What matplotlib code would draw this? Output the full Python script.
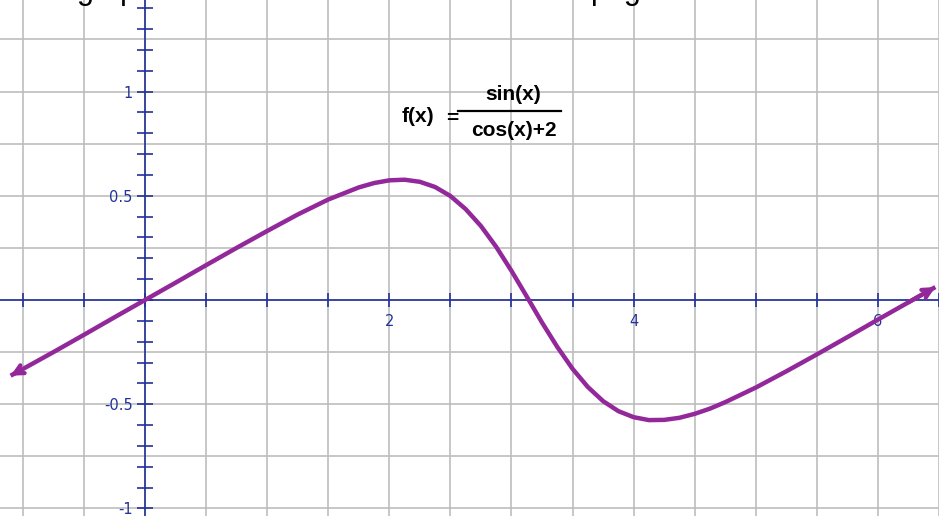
import numpy as np
import matplotlib
matplotlib.use("Agg")
import matplotlib.pyplot as plt
from matplotlib.lines import Line2D

xs = [-1.1, -1.0, -0.75, -0.5, -0.25, 0.0, 0.25, 0.5, 0.75, 1.0, 1.25, 1.5,
      1.75, 1.875, 2.0, 2.125, 2.25, 2.375, 2.5, 2.625, 2.75, 2.875, 3.0,
      3.125, 3.25, 3.375, 3.5, 3.625, 3.75, 3.875, 4.0, 4.125, 4.25, 4.375,
      4.5, 4.625, 4.75, 5.0, 5.25, 5.5, 5.75, 6.0, 6.25, 6.47]
ys = [-0.363, -0.331, -0.250, -0.167, -0.083, 0.0, 0.083, 0.167, 0.250, 0.331,
      0.410, 0.482, 0.540, 0.561, 0.574, 0.577, 0.567, 0.542, 0.499, 0.436,
      0.355, 0.255, 0.140, 0.017, -0.108, -0.225, -0.330, -0.417, -0.485,
      -0.533, -0.562, -0.576, -0.575, -0.565, -0.546, -0.521, -0.490, -0.420,
      -0.342, -0.261, -0.178, -0.094, -0.011, 0.062]

x_labels = {2: "2", 4: "4", 6: "6"}
y_labels = {0.5: "0.5", 1.0: "1", -0.5: "-0.5", -1.0: "-1"}

W, H = 939, 516
axis_col = "#22319b"
curve_col = "#93289b"
grid_col = "#bdbdbd"

fig = plt.figure(figsize=(W / 100, H / 100), dpi=100)
ax = fig.add_axes([0, 0, 1, 1])
ax.set_xlim(-1.187, 6.497)
ax.set_ylim(-1.036, 1.439)

# grid
for gx in np.arange(-1.0, 6.51, 0.5):
    ax.axvline(gx, color=grid_col, lw=1.2, zorder=0)
for gy in np.arange(-1.0, 1.41, 0.25):
    ax.axhline(gy, color=grid_col, lw=1.2, zorder=0)

# axes through the origin
for side in ["top", "right"]:
    ax.spines[side].set_visible(False)
ax.spines["left"].set_position(("data", 0))
ax.spines["bottom"].set_position(("data", 0))
for side in ["left", "bottom"]:
    ax.spines[side].set_color(axis_col)
    ax.spines[side].set_linewidth(1.2)
    ax.spines[side].set_zorder(1)

xt = np.arange(-1.0, 6.51, 0.5)
yt = np.round(np.arange(-1.0, 1.41, 0.1), 2)
ax.set_xticks(xt)
ax.set_xticklabels([x_labels.get(round(v, 2), "") for v in xt])
ax.set_yticks(yt)
ax.set_yticklabels([y_labels.get(round(v, 2), "") for v in yt])
ax.tick_params(axis="x", direction="inout", length=10, width=1.2,
               color=axis_col, labelcolor=axis_col, labelsize=10.5, pad=5)
ax.tick_params(axis="y", direction="inout", length=11.5, width=1.2,
               color=axis_col, labelcolor=axis_col, labelsize=10.5, pad=3)

# curve with arrow heads at both ends
ax.plot(xs, ys, color=curve_col, lw=3.2, solid_capstyle="butt",
        solid_joinstyle="round", zorder=5)
for (xa, ya), (xb, yb) in [((xs[0], ys[0]), (xs[1], ys[1])),
                           ((xs[-1], ys[-1]), (xs[-2], ys[-2]))]:
    ax.annotate("", xy=(xa, ya), xytext=(xb, yb), zorder=6,
                arrowprops=dict(arrowstyle="->", color=curve_col, lw=3,
                                mutation_scale=16, shrinkA=0, shrinkB=0))


def px(x, y):
    return x / W, 1 - y / H


# formula
ff = "Liberation Sans"
fs = 15
fig.text(*px(402, 117), "f(x)", fontsize=fs, family=ff, weight="bold",
         va="center", ha="left")
fig.text(*px(452, 118), "=", fontsize=fs, family=ff, weight="bold",
         va="center", ha="center")
fig.text(*px(513, 95), "sin(x)", fontsize=fs, family=ff, weight="bold",
         va="center", ha="center")
fig.text(*px(514, 130), "cos(x)+2", fontsize=fs, family=ff, weight="bold",
         va="center", ha="center")
fig.add_artist(Line2D([458 / W, 561 / W], [1 - 111 / H] * 2, color="black",
                      lw=1.6, transform=fig.transFigure))

# heading cut off at the top edge
fig.text(*px(77, -1), "graph", fontsize=22, family=ff, va="baseline", ha="left")
fig.text(*px(590, -1), "page", fontsize=22, family=ff, va="baseline", ha="left")

fig.savefig("out.png", dpi=100)
